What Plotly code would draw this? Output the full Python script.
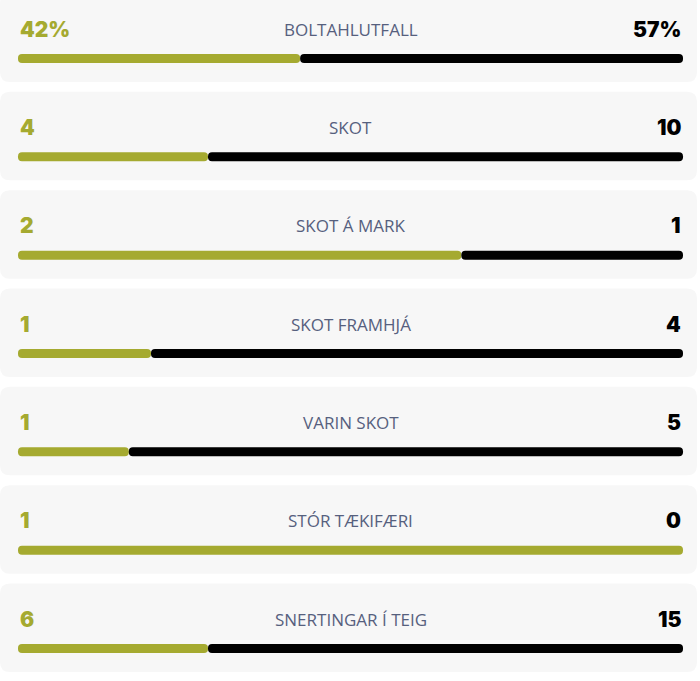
import plotly.graph_objects as go

# Match stats (home left, away right)
labels = ["BOLTAHLUTFALL", "SKOT", "SKOT Á MARK", "SKOT FRAMHJÁ",
          "VARIN SKOT", "STÓR TÆKIFÆRI", "SNERTINGAR Í TEIG"]
home = [42, 4, 2, 1, 1, 1, 6]
away = [57, 10, 1, 4, 5, 0, 15]
suffix = ["%", "", "", "", "", "", ""]

colors = {
    'home': '#a5aa30',
    'away': '#000000',
    'label': '#56607e',
    'card': '#f7f7f7',
}

W, H = 700, 681
X0, X1 = 18, 683          # bar extent in pixels
ROW0, STEP = 58.5, 98.33  # bar centre of first row, row spacing


def px_x(p):
    return (p - X0) / (X1 - X0)


def px_y(p):
    return (p - ROW0) / STEP


rows = list(range(len(labels)))
share = [h / (h + a) if (h + a) else 0.5 for h, a in zip(home, away)]

fig = go.Figure()

# home part grows leftwards from the split point so its far end is rounded
fig.add_trace(go.Bar(
    y=rows, x=[-s for s in share], base=share, orientation='h',
    marker=dict(color=colors['home'], line=dict(width=0)),
    width=9 / STEP, hoverinfo='skip', showlegend=False,
))
fig.add_trace(go.Bar(
    y=rows, x=[1 - s for s in share], base=share, orientation='h',
    marker=dict(color=colors['away'], line=dict(width=0)),
    width=9 / STEP, hoverinfo='skip', showlegend=False,
))

# rounded cards behind each row
rx, ry = 10 / (X1 - X0), 10 / STEP
xl, xr = px_x(0), px_x(697)
shapes = []
for i in rows:
    yt = i + px_y(ROW0 - 65)
    yb = i + px_y(ROW0 + 23.5)
    path = (f"M {xl+rx},{yt} L {xr-rx},{yt} Q {xr},{yt} {xr},{yt+ry} "
            f"L {xr},{yb-ry} Q {xr},{yb} {xr-rx},{yb} L {xl+rx},{yb} "
            f"Q {xl},{yb} {xl},{yb-ry} L {xl},{yt+ry} Q {xl},{yt} {xl+rx},{yt} Z")
    shapes.append(dict(type='path', path=path, fillcolor=colors['card'],
                       line=dict(width=0), layer='below', xref='x', yref='y'))

annotations = []
val_font = dict(family="Inter, sans-serif", size=21, weight=900)
for i in rows:
    yt = i - 29.3 / STEP
    annotations.append(dict(x=0, y=yt, text=f"{home[i]}{suffix[i]}", xanchor='left',
                            yanchor='middle', showarrow=False,
                            font=dict(val_font, color=colors['home'])))
    annotations.append(dict(x=1, y=yt, text=f"{away[i]}{suffix[i]}", xanchor='right',
                            yanchor='middle', showarrow=False,
                            font=dict(val_font, color=colors['away'])))
    annotations.append(dict(x=0.5, y=yt, text=labels[i], xanchor='center',
                            yanchor='middle', showarrow=False,
                            font=dict(family="'Open Sans', sans-serif", size=17,
                                      color=colors['label'])))

fig.update_layout(
    width=W, height=H,
    margin=dict(l=0, r=0, t=0, b=0),
    paper_bgcolor='white', plot_bgcolor='white',
    barmode='overlay', barcornerradius=5,
    xaxis=dict(range=[px_x(0), px_x(W)], visible=False, fixedrange=True),
    yaxis=dict(range=[px_y(H), px_y(0)], visible=False, fixedrange=True),
    shapes=shapes, annotations=annotations,
)

# drop the default page margin so the figure sits at the window's corner
fig.write_html("out.html", post_script="document.body.style.margin='0';",
               config={'displayModeBar': False})
